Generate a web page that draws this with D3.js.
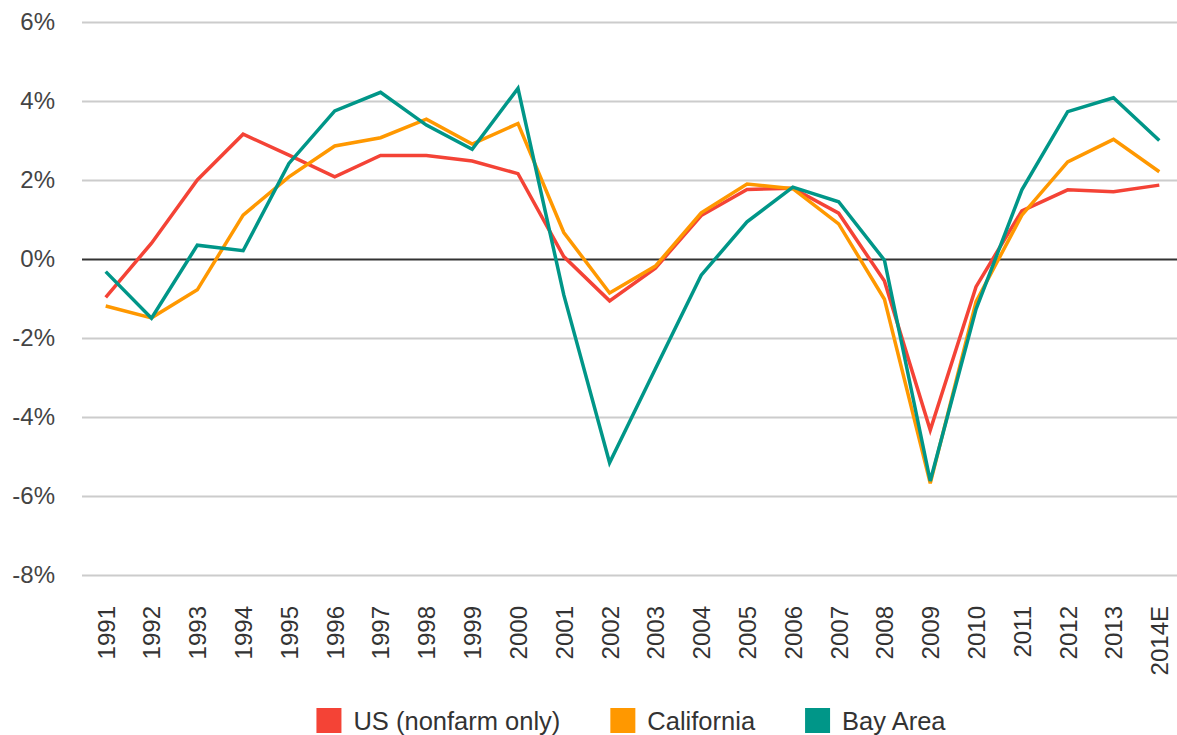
<!DOCTYPE html>
<html>
    <head>
        <meta charset="utf-8" />
        <script src="https://d3js.org/d3.v7.min.js"></script>
        <style>
            body { margin: 0; background: #fff; }
            svg { font-family: 'Liberation Sans', Arial, sans-serif; }
        </style>
    </head>
    <body>
        <svg width="1177" height="735"></svg>
        <script>
            const years = ['1991', '1992', '1993', '1994', '1995', '1996', '1997', '1998', '1999', '2000',
                '2001', '2002', '2003', '2004', '2005', '2006', '2007', '2008', '2009', '2010',
                '2011', '2012', '2013', '2014E']
            const usValues = [-0.97, 0.4, 2.0, 3.16, 2.63, 2.08, 2.62, 2.62, 2.48, 2.16,
                0.06, -1.06, -0.23, 1.1, 1.76, 1.79, 1.16, -0.56, -4.33, -0.7,
                1.22, 1.75, 1.7, 1.87]
            const caValues = [-1.19, -1.49, -0.78, 1.11, 2.08, 2.86, 3.07, 3.54, 2.91, 3.43,
                0.67, -0.86, -0.18, 1.17, 1.9, 1.78, 0.89, -1.02, -5.68, -1.08,
                1.11, 2.46, 3.03, 2.21]
            const bayValues = [-0.32, -1.5, 0.35, 0.21, 2.42, 3.75, 4.22, 3.39, 2.78, 4.32,
                -0.91, -5.16, -2.78, -0.41, 0.94, 1.82, 1.45, -0.03, -5.62, -1.27,
                1.75, 3.73, 4.08, 3.0]
            const seriesNames = ['US (nonfarm only)', 'California', 'Bay Area']
            const seriesColors = ['#f44336', '#ff9800', '#009688']
            const yTicks = [-8, -6, -4, -2, 0, 2, 4, 6]

            const svg = d3.select('svg')
            const left = 82
            const right = 1177

            const x = d3.scalePoint().domain(years).range([105.7, 1159.3])
            const y = d3.scaleLinear().domain([-8, 6]).range([575, 22])

            // y axis + gridlines
            const yAxis = svg.append('g')
                .attr('transform', `translate(${left},0)`)
                .call(d3.axisLeft(y).tickValues(yTicks).tickSize(-(right - left)).tickPadding(27)
                    .tickFormat((d) => d + '%'))
            yAxis.select('.domain').remove()
            yAxis.selectAll('line')
                .attr('stroke', (d) => (d === 0 ? '#333' : '#ccc'))
                .attr('stroke-width', 2)
            yAxis.selectAll('text')
                .attr('fill', '#444')
                .style('font-size', '24px')
                .style('font-family', "'Liberation Sans', Arial, sans-serif")

            // x axis labels
            const xAxis = svg.append('g')
                .attr('transform', 'translate(0,575)')
                .call(d3.axisBottom(x).tickSize(0))
            xAxis.select('.domain').remove()
            xAxis.selectAll('text')
                .attr('transform', 'rotate(-90)')
                .attr('x', -31)
                .attr('y', 0)
                .attr('dy', '0.35em')
                .attr('text-anchor', 'end')
                .attr('fill', '#333')
                .style('font-size', '24px')
                .style('font-family', "'Liberation Sans', Arial, sans-serif")

            // lines
            const series = [usValues, caValues, bayValues]
            const line = d3.line()
                .x((d, i) => x(years[i]))
                .y((d) => y(d))
            svg.append('g')
                .selectAll('path')
                .data(series)
                .enter()
                .append('path')
                .attr('d', line)
                .attr('fill', 'none')
                .attr('stroke', (d, i) => seriesColors[i])
                .attr('stroke-width', 3.5)
                .attr('stroke-linejoin', 'miter')

            // legend
            const legend = svg.append('g')
            let cx = 0
            seriesNames.forEach((name, i) => {
                const g = legend.append('g').attr('transform', `translate(${cx},0)`)
                g.append('rect')
                    .attr('x', 0)
                    .attr('y', 708)
                    .attr('width', 25)
                    .attr('height', 25)
                    .attr('fill', seriesColors[i])
                const t = g.append('text')
                    .attr('x', 37)
                    .attr('y', 730)
                    .attr('fill', '#333')
                    .style('font-size', '25.5px')
                    .text(name)
                cx += 37 + t.node().getComputedTextLength() + 50
            })
            const legendWidth = cx - 50
            legend.attr('transform', `translate(${631 - legendWidth / 2},0)`)
        </script>
    </body>
</html>
